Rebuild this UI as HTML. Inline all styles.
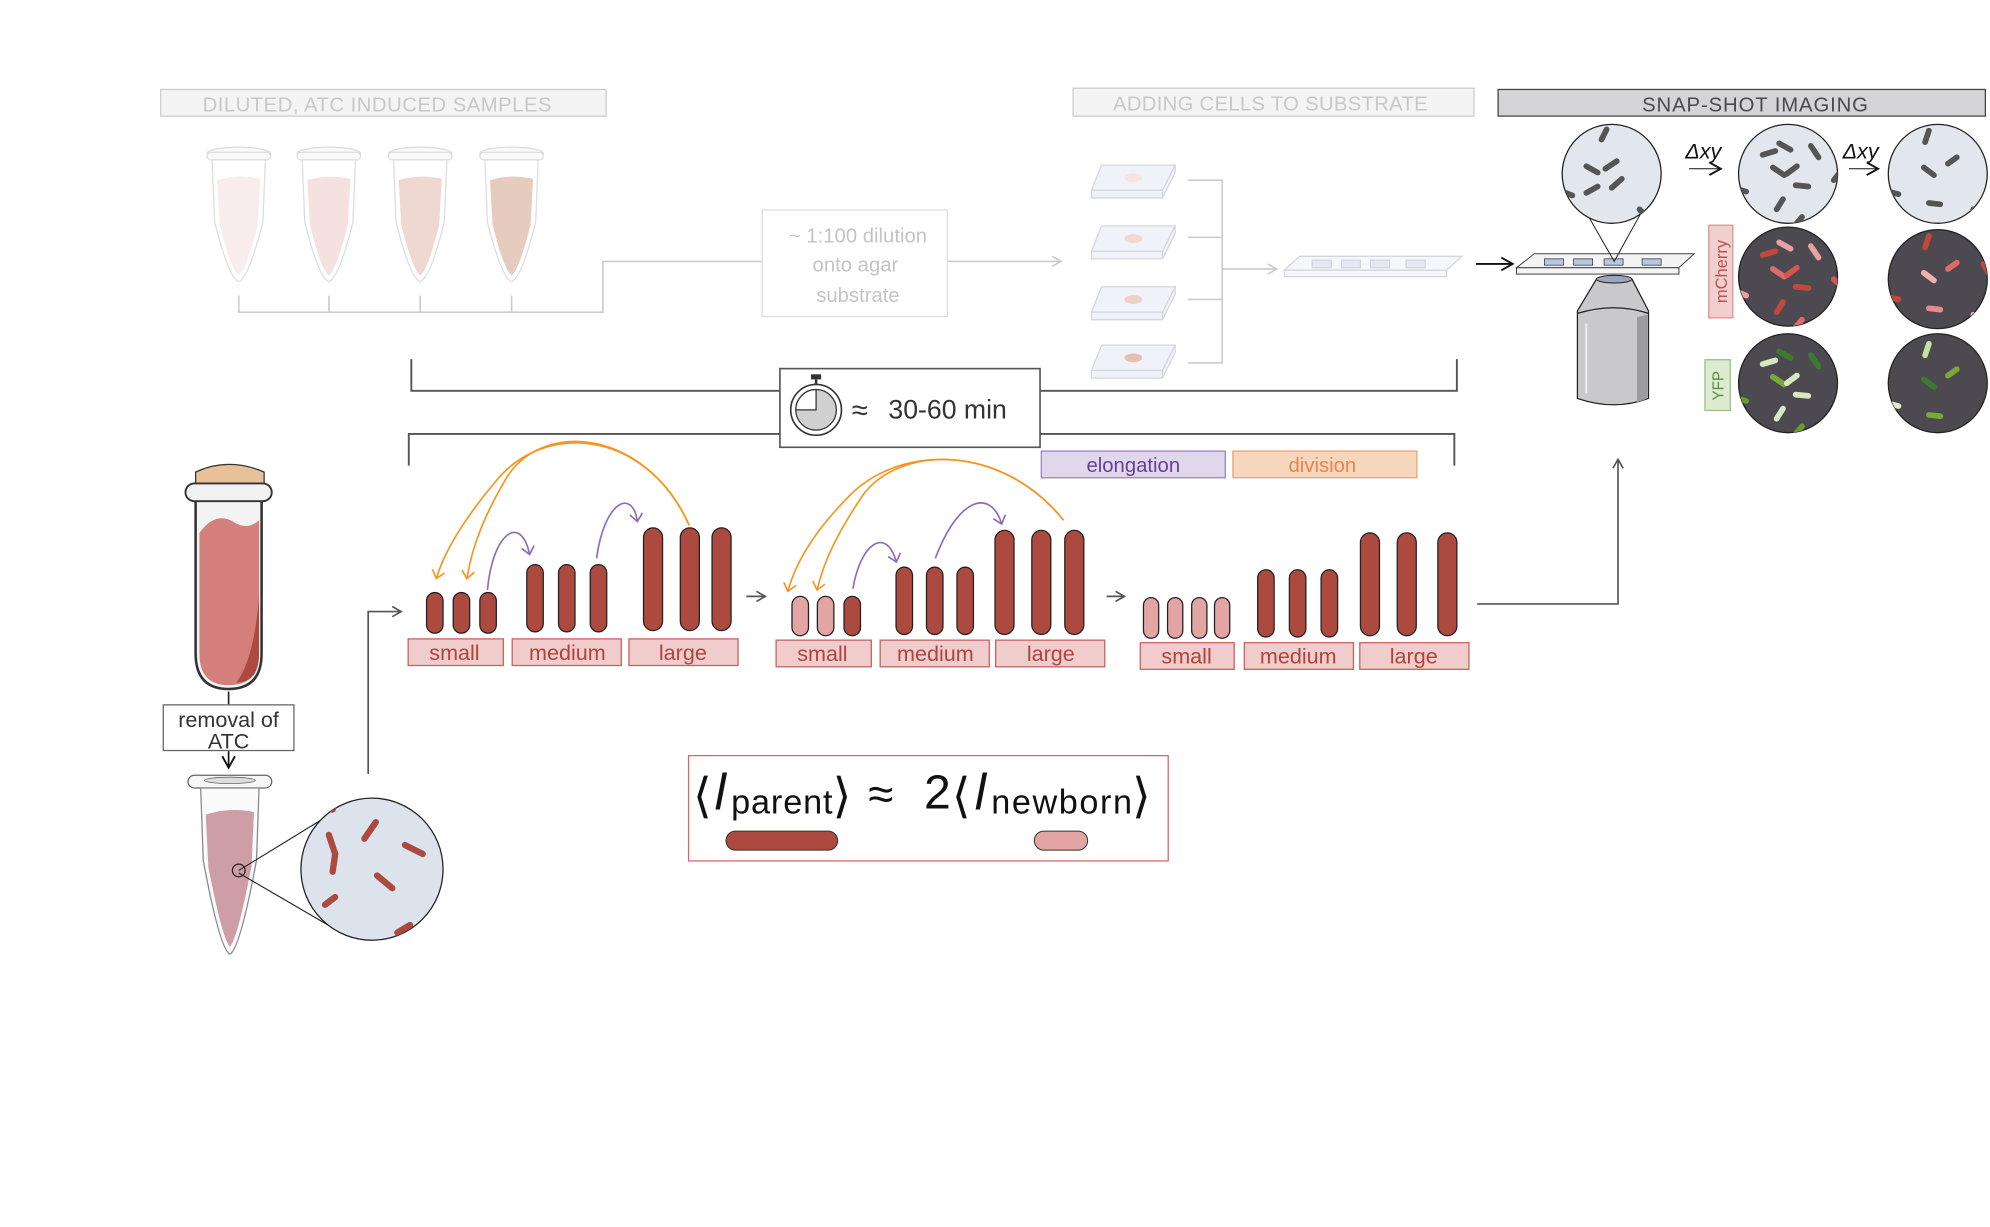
<!DOCTYPE html>
<html><head><meta charset="utf-8"><style>
html,body{margin:0;padding:0;background:#fff;}
svg{display:block;}
text{font-family:"Liberation Sans",sans-serif;}
</style></head><body>
<svg width="1990" height="1227" viewBox="0 0 1568 967" xmlns="http://www.w3.org/2000/svg">
<defs>
<marker id="ag" markerWidth="10" markerHeight="10" refX="8" refY="5" orient="auto" markerUnits="userSpaceOnUse"><path d="M1,1 L8,5 L1,9" fill="none" stroke="#ccc" stroke-width="1.3"/></marker>
<marker id="ad" markerWidth="10" markerHeight="10" refX="8" refY="5" orient="auto" markerUnits="userSpaceOnUse"><path d="M1,1 L8,5 L1,9" fill="none" stroke="#555" stroke-width="1.3"/></marker>
<marker id="ak" markerWidth="12" markerHeight="12" refX="10" refY="6" orient="auto" markerUnits="userSpaceOnUse"><path d="M1,1 L10,6 L1,11" fill="none" stroke="#111" stroke-width="1.5"/></marker>
<marker id="ao" markerWidth="12" markerHeight="12" refX="6" refY="6" orient="auto" markerUnits="userSpaceOnUse"><path d="M1,1 L7,6 L1,11" fill="none" stroke="#f7941d" stroke-width="1.3"/></marker>
<marker id="ap" markerWidth="12" markerHeight="12" refX="6" refY="6" orient="auto" markerUnits="userSpaceOnUse"><path d="M1,1 L7,6 L1,11" fill="none" stroke="#8e6bb8" stroke-width="1.3"/></marker>
<g id="ep">
<ellipse cx="0" cy="6" rx="25" ry="5" fill="#fafafa" stroke="#ddd" stroke-width="1"/>
<rect x="-25" y="5" width="50" height="6" rx="3" fill="#fafafa" stroke="#ddd"/>
<path d="M-21,11 L-19,60 Q-8,104 0,107 Q8,104 19,60 L21,11 Z" fill="#fff" stroke="#ddd"/>
</g>
<clipPath id="c1"><circle cx="0" cy="0" r="39"/></clipPath>
</defs>

<rect x="126.5" y="70.5" width="351" height="21" fill="#f4f4f4" stroke="#ccc"/>
<text x="297" y="88" font-size="16" fill="#c8c8c8" text-anchor="middle" textLength="275">DILUTED, ATC INDUCED SAMPLES</text>

<g transform="translate(188,115)"><use href="#ep"/><path d="M-17,27 Q0,22 17,26 L15,62 Q6,98 0,102 Q-6,98 -15,62 Z" fill="#f9ecec"/></g>
<g transform="translate(259,115)"><use href="#ep"/><path d="M-17,27 Q0,22 17,26 L15,62 Q6,98 0,102 Q-6,98 -15,62 Z" fill="#f5e2e0"/></g>
<g transform="translate(331,115)"><use href="#ep"/><path d="M-17,27 Q0,22 17,26 L15,62 Q6,98 0,102 Q-6,98 -15,62 Z" fill="#f0d8d2"/></g>
<g transform="translate(403,115)"><use href="#ep"/><path d="M-17,27 Q0,22 17,26 L15,62 Q6,98 0,102 Q-6,98 -15,62 Z" fill="#e6cbbf"/></g>
<g stroke="#ccc" stroke-width="1.3" fill="none">
<path d="M188,233 V246 H475 V206 H600"/>
<path d="M259,233 V246 M331,233 V246 M403,233 V246"/>
</g>
<rect x="600.5" y="165.5" width="146" height="84" fill="#fff" stroke="#ddd"/>
<text x="676" y="191" font-size="16" fill="#c4c4c4" text-anchor="middle">~ 1:100 dilution</text>
<text x="674" y="214" font-size="16" fill="#c4c4c4" text-anchor="middle">onto agar</text>
<text x="676" y="238" font-size="16" fill="#c4c4c4" text-anchor="middle">substrate</text>
<line x1="747" y1="206" x2="836" y2="206" stroke="#ccc" stroke-width="1.3" marker-end="url(#ag)"/>

<g fill="#f0f2fa" stroke="#d5d5dd" stroke-width="1">
<g transform="translate(860,130)"><path d="M8,0 H66 L56,20 H0 Z"/><path d="M0,20 H56 V26 H0 Z"/><path d="M56,20 L66,0 V6 L56,26Z"/><ellipse cx="33" cy="10" rx="7" ry="3.5" fill="#f6e4e0" stroke="none"/></g>
<g transform="translate(860,178)"><path d="M8,0 H66 L56,20 H0 Z"/><path d="M0,20 H56 V26 H0 Z"/><path d="M56,20 L66,0 V6 L56,26Z"/><ellipse cx="33" cy="10" rx="7" ry="3.5" fill="#f2d8d0" stroke="none"/></g>
<g transform="translate(860,226)"><path d="M8,0 H66 L56,20 H0 Z"/><path d="M0,20 H56 V26 H0 Z"/><path d="M56,20 L66,0 V6 L56,26Z"/><ellipse cx="33" cy="10" rx="7" ry="3.5" fill="#efd0c6" stroke="none"/></g>
<g transform="translate(860,272)"><path d="M8,0 H66 L56,20 H0 Z"/><path d="M0,20 H56 V26 H0 Z"/><path d="M56,20 L66,0 V6 L56,26Z"/><ellipse cx="33" cy="10" rx="7" ry="3.5" fill="#e8c0b0" stroke="none"/></g>
</g>
<g stroke="#ccc" stroke-width="1.3" fill="none">
<path d="M936,142 H963 V286 H936 M936,187 H963 M936,236 H963"/>
</g>
<line x1="963" y1="212" x2="1006" y2="212" stroke="#ccc" stroke-width="1.3" marker-end="url(#ag)"/>
<g transform="translate(1012,202)" fill="#f6f7fb" stroke="#d5d5dd">
<path d="M12,0 H140 L128,11 H0 Z"/><rect x="0" y="11" width="128" height="5"/>
<rect x="22" y="3" width="15" height="6" fill="#e6e9f4"/><rect x="45" y="3" width="15" height="6" fill="#e6e9f4"/><rect x="68" y="3" width="15" height="6" fill="#e6e9f4"/><rect x="96" y="3" width="15" height="6" fill="#e6e9f4"/>
</g>
<rect x="845.5" y="69.5" width="316" height="22" fill="#f4f4f4" stroke="#ccc"/>
<text x="1001" y="87" font-size="16" fill="#c8c8c8" text-anchor="middle" textLength="248">ADDING CELLS TO SUBSTRATE</text>

<rect x="1180.5" y="70.5" width="384" height="21" fill="#d4d4d6" stroke="#444"/>
<text x="1383" y="88" font-size="16" fill="#4a4a4a" text-anchor="middle" textLength="178">SNAP-SHOT IMAGING</text>
<line x1="1163" y1="208" x2="1192" y2="208" stroke="#111" stroke-width="1.5" marker-end="url(#ak)"/>

<!-- microscope -->
<path d="M1258,220 L1286,220 L1299,245 V314 Q1272,324 1243,314 V245 Z" fill="#c9c9cb" stroke="#222"/>
<ellipse cx="1272" cy="220" rx="14" ry="3" fill="#9aa6bf" stroke="#222" stroke-width="0.8"/>
<path d="M1243,247 Q1272,238 1299,247" fill="none" stroke="#222"/>
<path d="M1290,250 L1298,248 V314 Q1294,316 1290,317 Z" fill="#9c9c9f"/>
<line x1="1250" y1="255" x2="1250" y2="310" stroke="#eee" stroke-width="1.5"/>
<g transform="translate(1195,200)">
<path d="M14,0 H140 L128,11 H0 Z" fill="#f4f4f4" stroke="#444" stroke-width="0.8"/><rect x="0" y="11" width="128" height="5" fill="#f4f4f4" stroke="#444" stroke-width="0.8"/>
<rect x="22" y="4" width="15" height="5" fill="#b7c7e0" stroke="#335"  stroke-width="0.6"/><rect x="45" y="4" width="15" height="5" fill="#b7c7e0" stroke="#335" stroke-width="0.6"/><rect x="69" y="4" width="15" height="5" fill="#b7c7e0" stroke="#335" stroke-width="0.6"/><rect x="99" y="4" width="15" height="5" fill="#b7c7e0" stroke="#335" stroke-width="0.6"/>
</g>
<path d="M1240,150 L1272,206 L1303,150" fill="none" stroke="#222" stroke-width="0.8"/>

<g transform="translate(1270,137)">
<circle r="39" fill="#e2e7ee" stroke="#222"/>
<g clip-path="url(#c1)" stroke="#555" stroke-width="4.5" stroke-linecap="round">
<line x1="-8" y1="-27" x2="-4" y2="-35"/><line x1="-20" y1="-6" x2="-11" y2="-1"/><line x1="-5" y1="-4" x2="4" y2="-10"/><line x1="-20" y1="15" x2="-11" y2="10"/><line x1="0" y1="11" x2="8" y2="4"/><line x1="-39" y1="14" x2="-31" y2="17"/><line x1="22" y1="28" x2="28" y2="35"/><line x1="36" y1="-22" x2="40" y2="-15"/>
</g></g>
<g transform="translate(1409,137)">
<circle r="39" fill="#e2e7ee" stroke="#222"/>
<g clip-path="url(#c1)" stroke="#555" stroke-width="4.5" stroke-linecap="round">
<line x1="-20" y1="-15" x2="-10" y2="-18"/><line x1="-7" y1="-24" x2="2" y2="-19"/><line x1="18" y1="-22" x2="24" y2="-13"/><line x1="-12" y1="-5" x2="-3" y2="1"/><line x1="-1" y1="0" x2="7" y2="-6"/><line x1="6" y1="9" x2="16" y2="10"/><line x1="36" y1="5" x2="40" y2="0"/><line x1="-40" y1="12" x2="-33" y2="14"/><line x1="-9" y1="28" x2="-4" y2="20"/><line x1="6" y1="40" x2="11" y2="34"/>
</g></g>
<g transform="translate(1527,137)">
<circle r="39" fill="#e2e7ee" stroke="#222"/>
<g clip-path="url(#c1)" stroke="#555" stroke-width="4.5" stroke-linecap="round">
<line x1="-10" y1="-25" x2="-7" y2="-34"/><line x1="-11" y1="-5" x2="-3" y2="1"/><line x1="8" y1="-8" x2="15" y2="-13"/><line x1="-39" y1="14" x2="-31" y2="16"/><line x1="-7" y1="23" x2="2" y2="24"/><line x1="28" y1="28" x2="32" y2="34"/><line x1="36" y1="-22" x2="40" y2="-15"/>
</g></g>
<g transform="translate(1409,218)">
<circle r="39" fill="#4c4a50" stroke="#222"/>
<g clip-path="url(#c1)" stroke-width="4.5" stroke-linecap="round">
<line x1="-20" y1="-17" x2="-10" y2="-20" stroke="#c1483c"/><line x1="-7" y1="-27" x2="2" y2="-22" stroke="#e8a0a0"/><line x1="18" y1="-24" x2="24" y2="-15" stroke="#e8a0a0"/><line x1="-12" y1="-6" x2="-3" y2="0" stroke="#e06a6a"/><line x1="-1" y1="-1" x2="7" y2="-7" stroke="#d9534f"/><line x1="6" y1="8" x2="16" y2="9" stroke="#c1483c"/><line x1="-40" y1="12" x2="-33" y2="15" stroke="#e8a0a0"/><line x1="-9" y1="28" x2="-4" y2="20" stroke="#c1483c"/><line x1="6" y1="40" x2="11" y2="34" stroke="#e06a6a"/><line x1="36" y1="2" x2="40" y2="6" stroke="#d9534f"/>
</g></g>
<g transform="translate(1527,220)">
<circle r="39" fill="#4c4a50" stroke="#222"/>
<g clip-path="url(#c1)" stroke-width="4.5" stroke-linecap="round">
<line x1="-10" y1="-25" x2="-7" y2="-34" stroke="#c1483c"/><line x1="-11" y1="-5" x2="-3" y2="1" stroke="#f0b0b0"/><line x1="8" y1="-8" x2="15" y2="-13" stroke="#e06a6a"/><line x1="-39" y1="14" x2="-31" y2="16" stroke="#c1483c"/><line x1="-7" y1="23" x2="2" y2="24" stroke="#e88a8a"/><line x1="28" y1="28" x2="32" y2="34" stroke="#f0b0b0"/><line x1="36" y1="-12" x2="40" y2="-5" stroke="#c1483c"/>
</g></g>
<g transform="translate(1409,302)">
<circle r="39" fill="#4c4a50" stroke="#222"/>
<g clip-path="url(#c1)" stroke-width="4.5" stroke-linecap="round">
<line x1="-20" y1="-15" x2="-10" y2="-18" stroke="#d8e8c0"/><line x1="-7" y1="-25" x2="2" y2="-20" stroke="#3d7a30"/><line x1="18" y1="-22" x2="24" y2="-13" stroke="#3d7a30"/><line x1="-12" y1="-5" x2="-3" y2="1" stroke="#7aa83a"/><line x1="-1" y1="0" x2="7" y2="-6" stroke="#d8e8c0"/><line x1="6" y1="9" x2="16" y2="10" stroke="#d8e8c0"/><line x1="-40" y1="12" x2="-33" y2="14" stroke="#6a9a2a"/><line x1="-9" y1="28" x2="-4" y2="20" stroke="#d8e8c0"/><line x1="6" y1="40" x2="11" y2="34" stroke="#6a9a2a"/>
</g></g>
<g transform="translate(1527,302)">
<circle r="39" fill="#4c4a50" stroke="#222"/>
<g clip-path="url(#c1)" stroke-width="4.5" stroke-linecap="round">
<line x1="-10" y1="-22" x2="-7" y2="-31" stroke="#c8e0a0"/><line x1="-11" y1="-3" x2="-3" y2="3" stroke="#3d7a30"/><line x1="8" y1="-6" x2="15" y2="-11" stroke="#7aa83a"/><line x1="-39" y1="16" x2="-31" y2="18" stroke="#e0ecd0"/><line x1="-7" y1="25" x2="2" y2="26" stroke="#7aa83a"/><line x1="28" y1="30" x2="32" y2="36" stroke="#3d7a30"/><line x1="36" y1="-20" x2="40" y2="-13" stroke="#e0ecd0"/>
</g></g>
<text x="1328" y="125" font-size="17" font-style="italic" font-family="Liberation Serif,serif" fill="#111">Δxy</text>
<text x="1452" y="125" font-size="17" font-style="italic" font-family="Liberation Serif,serif" fill="#111">Δxy</text>
<line x1="1331" y1="133" x2="1356" y2="133" stroke="#111" stroke-width="0.8" marker-end="url(#ak)"/>
<line x1="1457" y1="133" x2="1480" y2="133" stroke="#111" stroke-width="0.8" marker-end="url(#ak)"/>
<rect x="1346.5" y="177.5" width="19" height="73" fill="#f2cfcf" stroke="#e09090"/>
<text transform="translate(1361,214) rotate(-90)" font-size="13" fill="#c05050" text-anchor="middle">mCherry</text>
<rect x="1343.5" y="283.5" width="20" height="40" fill="#dcebd0" stroke="#9cc08a"/>
<text transform="translate(1358,304) rotate(-90)" font-size="12" fill="#5a8a40" text-anchor="middle">YFP</text>

<g stroke="#555" stroke-width="1.5" fill="none">
<path d="M324,283 V308 H1148 V283"/>
<path d="M322,367 V342 H1146 V367"/>
</g>
<rect x="614.5" y="290.5" width="205" height="62" fill="#fff" stroke="#555" stroke-width="1.3"/>
<circle cx="643" cy="323" r="20" fill="#fff" stroke="#333" stroke-width="1.3"/>
<circle cx="643" cy="323" r="16" fill="#d0d0d0" stroke="#333"/>
<path d="M643,323 V307 A16,16 0 0 0 627,323 Z" fill="#fff" stroke="#333"/>
<rect x="639" y="295" width="8" height="4" fill="#333"/><line x1="643" y1="299" x2="643" y2="303" stroke="#333" stroke-width="2"/>
<text x="671" y="331" font-size="23" fill="#333">≈</text>
<text x="700" y="330" font-size="21" fill="#333">30-60 min</text>

<rect x="820.5" y="355.5" width="145" height="21" fill="#e0d8ea" stroke="#9b7fc0"/>
<text x="893" y="372" font-size="16" fill="#6a3d9a" text-anchor="middle">elongation</text>
<rect x="971.5" y="355.5" width="145" height="21" fill="#f6d6bc" stroke="#eea070"/>
<text x="1042" y="372" font-size="16" fill="#e5874a" text-anchor="middle">division</text>

<g stroke="#222" stroke-width="1">
<g fill="#ad4a3f">
<rect x="336" y="467" width="13" height="32" rx="6.5"/><rect x="357" y="467" width="13" height="32" rx="6.5"/><rect x="378" y="467" width="13" height="32" rx="6.5"/>
<rect x="415" y="445" width="13" height="53" rx="6.5"/><rect x="440" y="445" width="13" height="53" rx="6.5"/><rect x="465" y="445" width="13" height="53" rx="6.5"/>
<rect x="507" y="416" width="15" height="81" rx="7.5"/><rect x="536" y="416" width="15" height="81" rx="7.5"/><rect x="561" y="416" width="15" height="81" rx="7.5"/>
<rect x="665" y="470" width="13" height="31" rx="6.5"/>
<rect x="706" y="447" width="13" height="53" rx="6.5"/><rect x="730" y="447" width="13" height="53" rx="6.5"/><rect x="754" y="447" width="13" height="53" rx="6.5"/>
<rect x="784" y="418" width="15" height="82" rx="7.5"/><rect x="813" y="418" width="15" height="82" rx="7.5"/><rect x="839" y="418" width="15" height="82" rx="7.5"/>
<rect x="991" y="449" width="13" height="53" rx="6.5"/><rect x="1016" y="449" width="13" height="53" rx="6.5"/><rect x="1041" y="449" width="13" height="53" rx="6.5"/>
<rect x="1072" y="420" width="15" height="81" rx="7.5"/><rect x="1101" y="420" width="15" height="81" rx="7.5"/><rect x="1133" y="420" width="15" height="81" rx="7.5"/>
</g>
<g fill="#e3a5a3">
<rect x="624" y="470" width="13" height="31" rx="6.5"/><rect x="644" y="470" width="13" height="31" rx="6.5"/>
<rect x="901" y="471" width="12" height="32" rx="6"/><rect x="920" y="471" width="12" height="32" rx="6"/><rect x="939" y="471" width="12" height="32" rx="6"/><rect x="957" y="471" width="12" height="32" rx="6"/>
</g>
</g>
<g fill="#f0cccc" stroke="#c8605a" stroke-width="1">
<rect x="321.5" y="503.5" width="75" height="21"/><rect x="403.5" y="503.5" width="86" height="21"/><rect x="495.5" y="503.5" width="86" height="21"/>
<rect x="611.5" y="504.5" width="75" height="21"/><rect x="693.5" y="504.5" width="86" height="21"/><rect x="784.5" y="504.5" width="86" height="21"/>
<rect x="898.5" y="506.5" width="74" height="21"/><rect x="980.5" y="506.5" width="86" height="21"/><rect x="1071.5" y="506.5" width="86" height="21"/>
</g>
<g font-size="17" fill="#b0443c" text-anchor="middle">
<text x="358" y="520">small</text><text x="447" y="520">medium</text><text x="538" y="520">large</text>
<text x="648" y="521">small</text><text x="737" y="521">medium</text><text x="828" y="521">large</text>
<text x="935" y="523">small</text><text x="1023" y="523">medium</text><text x="1114" y="523">large</text>
</g>
<line x1="588" y1="470" x2="603" y2="470" stroke="#555" stroke-width="1.3" marker-end="url(#ad)"/>
<line x1="872" y1="470" x2="886" y2="470" stroke="#555" stroke-width="1.3" marker-end="url(#ad)"/>

<g fill="none" stroke-width="1.3">
<path d="M543,414 C510,340 430,330 390,380 C365,410 350,435 344,455" stroke="#f7941d" marker-end="url(#ao)"/>
<path d="M543,414 C510,340 430,330 400,375 C382,405 372,430 368,455" stroke="#f7941d" marker-end="url(#ao)"/>
<path d="M384,465 C388,420 410,405 417,436" stroke="#8e6bb8" marker-end="url(#ap)"/>
<path d="M470,440 C476,395 498,385 502,410" stroke="#8e6bb8" marker-end="url(#ap)"/>
<path d="M838,410 C790,350 710,350 670,390 C645,415 628,440 621,465" stroke="#f7941d" marker-end="url(#ao)"/>
<path d="M838,410 C790,350 710,350 680,390 C660,420 650,440 644,464" stroke="#f7941d" marker-end="url(#ao)"/>
<path d="M672,464 C678,428 698,415 706,442" stroke="#8e6bb8" marker-end="url(#ap)"/>
<path d="M737,440 C755,392 780,385 789,412" stroke="#8e6bb8" marker-end="url(#ap)"/>
</g>

<path d="M1164,476 H1275 V362" fill="none" stroke="#555" stroke-width="1.3" marker-end="url(#ad)"/>

<!-- left tube -->
<path d="M154,390 V515 Q154,543 180,543 Q206,543 206,515 V390" fill="#f3f3f3" stroke="#333" stroke-width="2"/>
<path d="M157,420 Q170,402 185,412 Q195,418 204,410 V515 Q204,540 180,540 Q157,540 157,515 Z" fill="#d47f7c"/>
<path d="M204,470 V515 Q204,538 186,538 Q200,520 204,470Z" fill="#ad4a3f"/>
<path d="M154,372 Q180,360 208,372 V384 H154 Z" fill="#e8c09a" stroke="#333"/>
<rect x="146" y="381" width="68" height="14" rx="7" fill="#f1f1f1" stroke="#333" stroke-width="1.5"/>
<line x1="180" y1="545" x2="180" y2="555" stroke="#222" stroke-width="1.3"/>
<rect x="128.5" y="555.5" width="103" height="36" fill="#fff" stroke="#666"/>
<text x="180" y="573" font-size="17" fill="#333" text-anchor="middle">removal of</text>
<text x="180" y="590" font-size="17" fill="#333" text-anchor="middle">ATC</text>
<line x1="180" y1="592" x2="180" y2="605" stroke="#111" stroke-width="1.3" marker-end="url(#ak)"/>
<g transform="translate(181,608)">
<rect x="-33" y="3" width="66" height="10" rx="5" fill="#f6f6f6" stroke="#666"/>
<ellipse cx="0" cy="7" rx="20" ry="2.5" fill="#ddd" stroke="#666" stroke-width="0.6"/>
<path d="M-23,13 L-21,70 Q-8,140 0,144 Q8,140 21,70 L23,13 Z" fill="#fafafa" stroke="#888"/>
<path d="M-19,34 Q0,28 19,32 L17,75 Q6,132 0,138 Q-6,132 -17,75 Z" fill="#cd9ea5"/>
<circle cx="7" cy="78" r="5" fill="none" stroke="#222"/>
</g>
<path d="M188,686 L255,645 M188,688 L260,730" stroke="#222" stroke-width="0.9"/>
<g transform="translate(293,685)">
<circle r="56" fill="#dde3ec" stroke="#222"/>
<clipPath id="c2"><circle r="56"/></clipPath>
<g clip-path="url(#c2)" stroke="#ad4a3f" stroke-width="5" stroke-linecap="round">
<line x1="-34" y1="-27" x2="-29" y2="-12"/><line x1="-29" y1="-12" x2="-31" y2="2"/><line x1="3" y1="-37" x2="-6" y2="-24"/><line x1="40" y1="-12" x2="26" y2="-19"/><line x1="4" y1="5" x2="16" y2="15"/><line x1="-37" y1="28" x2="-29" y2="22"/><line x1="-28" y1="-55" x2="-31" y2="-47"/><line x1="20" y1="50" x2="30" y2="44"/>
</g></g>
<path d="M290,610 V482 H316" fill="none" stroke="#555" stroke-width="1.3" marker-end="url(#ad)"/>

<!-- formula -->
<rect x="542.5" y="595.5" width="378" height="83" fill="#fff" stroke="#d9665f"/>
<g fill="#111">
<text x="546" y="640" font-size="38">⟨</text>
<text x="563" y="638" font-size="40" font-style="italic">l</text>
<text x="576" y="641" font-size="27" textLength="80">parent</text>
<text x="656" y="640" font-size="38">⟩</text>
<text x="684" y="638" font-size="36">≈</text>
<text x="728" y="637" font-size="38">2</text>
<text x="750" y="640" font-size="38">⟨</text>
<text x="768" y="638" font-size="40" font-style="italic">l</text>
<text x="781" y="641" font-size="27" textLength="111">newborn</text>
<text x="892" y="640" font-size="38">⟩</text>
</g>
<rect x="572" y="655" width="88" height="15" rx="7.5" fill="#ad4a3f" stroke="#333" stroke-width="0.8"/>
<rect x="815" y="655" width="42" height="15" rx="7.5" fill="#e3a5a3" stroke="#333" stroke-width="0.8"/>
</svg>
</body></html>
